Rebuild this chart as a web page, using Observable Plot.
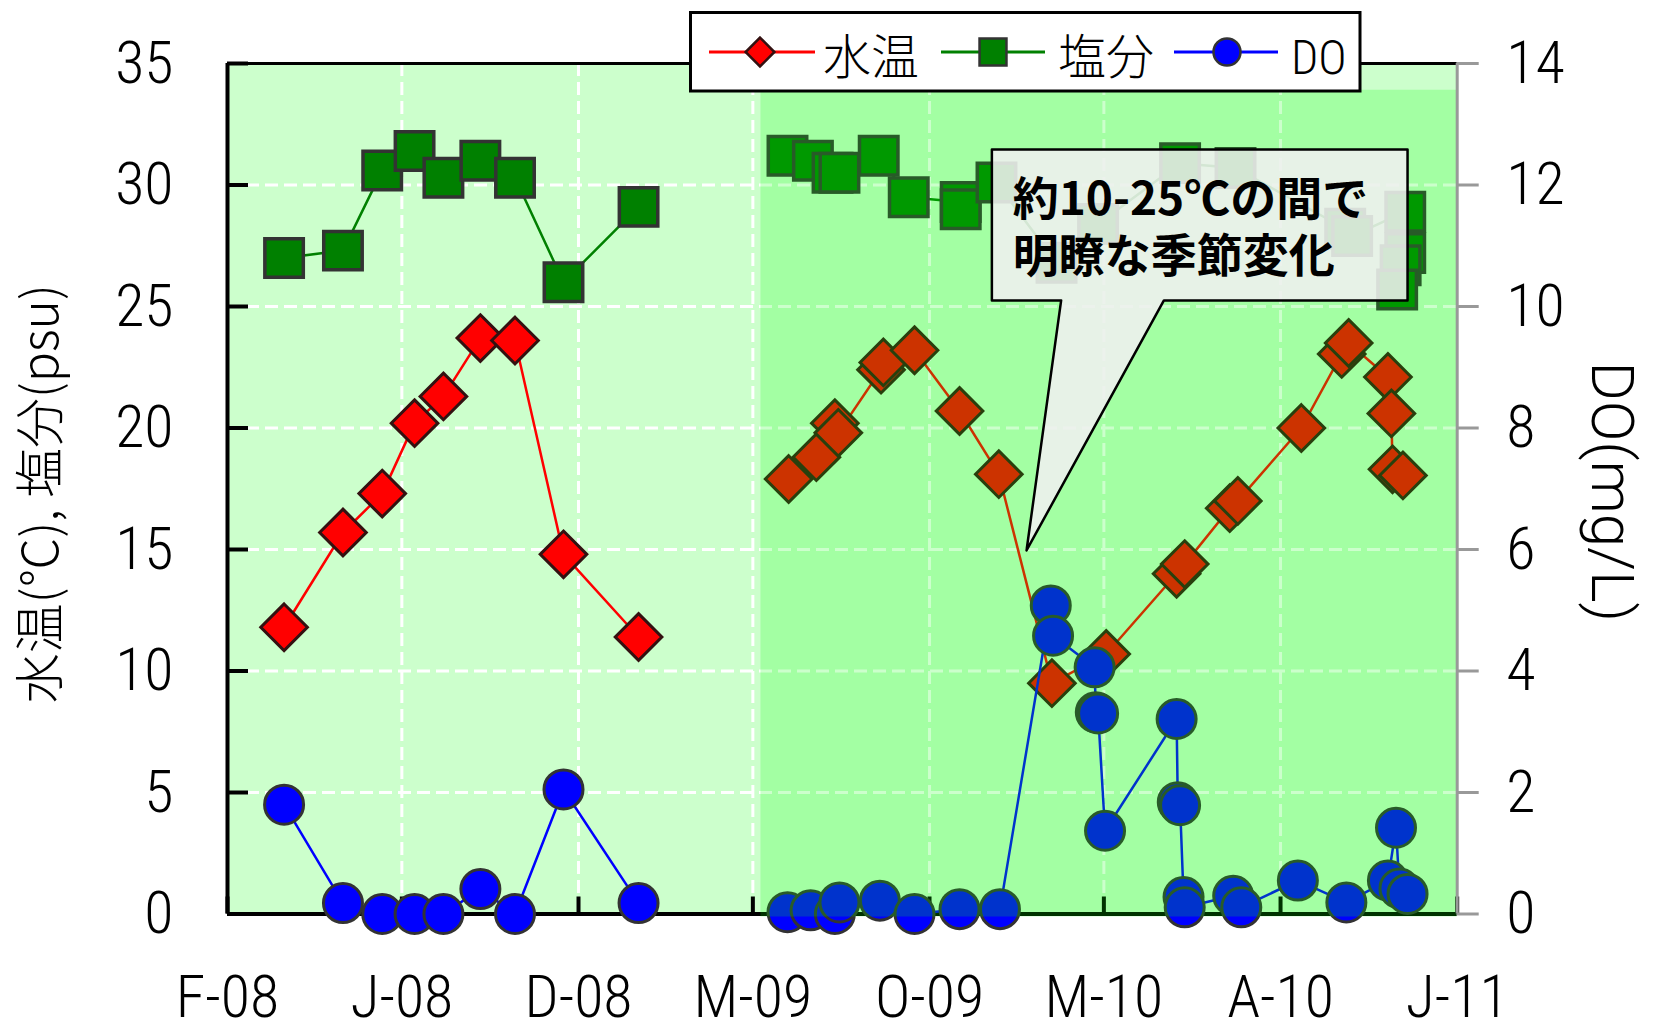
<!DOCTYPE html>
<html><head><meta charset="utf-8">
<script src="https://cdn.jsdelivr.net/npm/d3@7"></script>
<script src="https://cdn.jsdelivr.net/npm/@observablehq/plot@0.6"></script>
<style>
html,body{margin:0;padding:0;background:#fff;}
#wrap{position:relative;width:1655px;height:1025px;overflow:hidden;}
#chart{position:absolute;left:0;top:0;}
#legend{position:absolute;left:0;top:0;}
</style></head><body>
<div id="wrap"><div id="chart"></div><svg id="legend" width="1655" height="100"></svg></div>
<script>
// ---------------- data ----------------
const xTickDates  = ["2008-02-01","2008-07-01","2008-12-01","2009-05-01","2009-10-01","2010-03-01","2010-08-01","2011-01-01"];
const xTickLabels = ["F-08","J-08","D-08","M-09","O-09","M-10","A-10","J-11"];
const yLeftTicks  = [0,5,10,15,20,25,30,35];
const yRightTicks = [0,2,4,6,8,10,12,14];

const tempDates = ["2008-03-21","2008-05-11","2008-06-14","2008-07-12","2008-08-06","2008-09-07","2008-10-07","2008-11-18","2009-01-22",
  "2009-06-01","2009-06-25","2009-07-11","2009-07-14","2009-08-20","2009-08-22","2009-09-18","2009-10-27","2009-11-30",
  "2010-01-15","2010-03-03","2010-05-03","2010-05-10","2010-06-18","2010-06-25","2010-08-19","2010-09-23","2010-09-29",
  "2010-11-02","2010-11-05","2010-11-06","2010-11-15"];
const tempValues = [11.8,15.7,17.3,20.2,21.3,23.7,23.6,14.8,11.4,
  17.9,18.8,20.2,19.8,22.4,22.7,23.2,20.7,18.1,
  9.5,10.7,14.0,14.4,16.7,17.0,20.0,23.05,23.5,
  22.1,20.6,18.3,18.05];

const salDates = ["2008-03-21","2008-05-11","2008-06-14","2008-07-12","2008-08-06","2008-09-07","2008-10-07","2008-11-18","2009-01-22",
  "2009-05-31","2009-06-22","2009-07-09","2009-07-15","2009-08-18","2009-09-13","2009-10-28","2009-10-28","2009-11-28",
  "2010-01-19","2010-02-24","2010-05-06","2010-06-23","2010-09-26","2010-10-02",
  "2010-11-17","2010-11-17","2010-11-13","2010-11-10"];
const salValues = [27.0,27.3,30.6,31.4,30.3,31.0,30.3,26.0,29.1,
  31.2,31.0,30.5,30.5,31.2,29.5,29.3,29.0,30.1,
  26.8,28.4,30.9,30.7,28.2,27.9,
  28.9,27.2,26.7,25.7];

const doDates = ["2008-03-21","2008-05-11","2008-06-14","2008-07-12","2008-08-06","2008-09-07","2008-10-07","2008-11-18","2009-01-22",
  "2009-05-31","2009-06-20","2009-07-11","2009-07-15","2009-08-19","2009-09-18","2009-10-27","2009-12-01",
  "2010-01-14","2010-01-16","2010-02-21","2010-02-22","2010-02-24","2010-03-02",
  "2010-05-03","2010-05-04","2010-05-06","2010-05-09","2010-05-10","2010-06-21","2010-06-28",
  "2010-08-16","2010-09-27","2010-11-02","2010-11-09","2010-11-12","2010-11-19"];
const doValues = [1.80,0.18,0.0,0.0,0.0,0.41,0.0,2.05,0.18,
  0.03,0.06,0.0,0.19,0.22,0.0,0.08,0.08,
  5.08,4.58,4.06,3.32,3.30,1.37,
  3.21,1.84,1.79,0.28,0.11,0.30,0.11,
  0.55,0.19,0.55,1.42,0.42,0.33];

const xDomain = ["2008-02-01","2011-01-01"];
const gapDate = "2009-03-01";              // sampling gap: lines are broken here
const overlayPeriod = {start: "2009-05-08", end: "2011-01-01", top: 33.9};
const callout = {left: "2009-11-24", right: "2010-11-19", top: 31.46, bottom: 25.25,
  baseL: "2010-01-23", baseR: "2010-04-22", tipX: "2009-12-24", tipY: 14.96,
  textX: "2009-12-12", textY: 28.35, text: "約10-25℃の間で\n明瞭な季節変化"};
const leftTitle = "水温(℃), 塩分(psu)";
const rightTitle = "DO(mg/L)";

// ---------------- build ----------------
const W = 1655, H = 1025;
const mL = 227, mR = 198.3, mT = 63, mB = 111.5;
const frameW = W - mL - mR, frameH = H - mT - mB;
const doFactor = 35 / 14;
const parse = s => new Date(s + "T00:00:00Z");
const gap = parse(gapDate);
const series = (dates, values, k = 1) => dates.map((d, i) => ({date: parse(d), value: values[i] * k, seg: parse(d) < gap ? 0 : 1}));
const temp = series(tempDates, tempValues);
const sal = series(salDates, salValues);
const dox = series(doDates, doValues, doFactor);

const NARROW = "'Roboto Condensed','Liberation Sans Narrow','DejaVu Sans Condensed',sans-serif";
const CJK = "'Noto Sans CJK JP','Noto Sans CJK SC',sans-serif";
const SANS = "Roboto,'Liberation Sans',Arial,sans-serif";
const LIGHT = 300;

const cPts = [[callout.left, callout.top],[callout.right, callout.top],[callout.right, callout.bottom],
  [callout.baseR, callout.bottom],[callout.tipX, callout.tipY],[callout.baseL, callout.bottom],[callout.left, callout.bottom]];

const grid = {stroke: "white", strokeOpacity: 1, strokeWidth: 3, strokeDasharray: "13,6"};

const chart = Plot.plot({
  width: W, height: H, marginLeft: mL, marginRight: mR, marginTop: mT, marginBottom: mB,
  x: {type: "utc", domain: xDomain.map(parse), axis: null},
  y: {domain: [0, 35], axis: null},
  style: {background: "white", overflow: "visible"},
  marks: [
    Plot.frame({fill: "#CCFFCC", stroke: "none"}),
    Plot.ruleY(yLeftTicks.slice(1, -1), grid),
    Plot.ruleX(xTickDates.slice(1, -1).map(parse), grid),
    Plot.ruleY([0], {stroke: "black", strokeWidth: 4}),
    Plot.ruleX([parse(xDomain[0])], {stroke: "black", strokeWidth: 4}),
    Plot.tickX(xTickDates.map(parse), {stroke: "black", strokeWidth: 4, insetTop: frameH - 17}),
    Plot.tickY(yLeftTicks, {stroke: "black", strokeWidth: 4, insetRight: frameW - 21}),
    // 水温
    Plot.line(temp, {x: "date", y: "value", z: "seg", stroke: "#FF0000", strokeWidth: 2.5}),
    Plot.dot(temp, {x: "date", y: "value", symbol: "diamond2", r: 21, fill: "#FF0000", stroke: "#331111", strokeWidth: 3}),
    // 塩分
    Plot.line(sal, {x: "date", y: "value", z: "seg", stroke: "#008000", strokeWidth: 2.5}),
    Plot.dot(sal, {x: "date", y: "value", symbol: "square", r: 21.7, fill: "#008000", stroke: "#333333", strokeWidth: 3.5}),
    // DO
    Plot.line(dox, {x: "date", y: "value", z: "seg", stroke: "#0000FF", strokeWidth: 2.5}),
    Plot.dot(dox, {x: "date", y: "value", r: 19.5, fill: "#0000FF", stroke: "#333333", strokeWidth: 3}),
    // shaded period
    Plot.rect([overlayPeriod], {x1: d => parse(d.start), x2: d => parse(d.end), y1: 0, y2: d => d.top,
      fill: "#00FF00", fillOpacity: 0.2, insetBottom: -3}),
    Plot.ruleY([35], {stroke: "black", strokeWidth: 3}),
    Plot.ruleX([parse(xDomain[1])], {stroke: "#999999", strokeWidth: 3}),
    Plot.tickY(yRightTicks.map(v => v * doFactor), {stroke: "#999999", strokeWidth: 3, insetLeft: frameW, insetRight: -22}),
    // callout
    Plot.line(cPts, {x: d => parse(d[0]), y: d => d[1], curve: "linear-closed", fill: "#F0F0F0", fillOpacity: 0.88,
      stroke: "black", strokeWidth: 2.5}),
    Plot.text([callout], {x: d => parse(d.textX), y: d => d.textY, text: d => d.text, textAnchor: "start",
      lineAnchor: "middle", lineHeight: 1.25, fontSize: 46, fontWeight: "bold", fontFamily: CJK, fill: "black"}),
    // tick labels
    Plot.text(yLeftTicks, {frameAnchor: "left", y: d => d, text: d => String(d), textAnchor: "end", lineAnchor: "middle", dx: -54,
      fontSize: 60, fontWeight: LIGHT, fontFamily: NARROW, fill: "black"}),
    Plot.text(yRightTicks, {frameAnchor: "right", y: d => d * doFactor, text: d => String(d), textAnchor: "start", lineAnchor: "middle", dx: 49,
      fontSize: 60, fontWeight: LIGHT, fontFamily: NARROW, fill: "black"}),
    Plot.text(xTickDates, {x: d => parse(d), frameAnchor: "bottom", text: (d, i) => xTickLabels[i], textAnchor: "middle", lineAnchor: "middle", dy: 84,
      fontSize: 60, fontWeight: LIGHT, fontFamily: NARROW, fill: "black"}),
    // axis titles
    Plot.text([leftTitle], {frameAnchor: "left", text: d => d, textAnchor: "middle", lineAnchor: "middle", rotate: -90, dx: -186, dy: 5,
      fontSize: 50, fontWeight: LIGHT, fontFamily: CJK, fill: "black"}),
    Plot.text([rightTitle], {frameAnchor: "right", text: d => d, textAnchor: "middle", lineAnchor: "middle", rotate: 90, dx: 154, dy: 3,
      fontSize: 60, fontWeight: LIGHT, fontFamily: SANS, fill: "black"})
  ]
});
document.getElementById("chart").appendChild(chart);

// ---------------- legend ----------------
const lg = d3.select("#legend");
lg.append("rect").attr("x", 690.5).attr("y", 12.5).attr("width", 669.5).attr("height", 78.5)
  .attr("fill", "white").attr("stroke", "black").attr("stroke-width", 3);
const items = [
  {label: "水温", color: "#FF0000", stroke: "#331111", symbol: d3.symbolDiamond2, r: 13, x0: 709, x1: 815, mx: 760, tx: 823, font: CJK},
  {label: "塩分", color: "#008000", stroke: "#333333", symbol: d3.symbolSquare, r: 15.2, x0: 941, x1: 1045, mx: 993, tx: 1058, font: CJK},
  {label: "DO", color: "#0000FF", stroke: "#333333", symbol: d3.symbolCircle, r: 13.5, x0: 1174, x1: 1278, mx: 1227, tx: 1291, font: NARROW}
];
const ly = 52;
for (const it of items) {
  lg.append("line").attr("x1", it.x0).attr("x2", it.x1).attr("y1", ly).attr("y2", ly)
    .attr("stroke", it.color).attr("stroke-width", 3);
  lg.append("path").attr("d", d3.symbol(it.symbol, it.r * it.r * Math.PI)())
    .attr("transform", `translate(${it.mx},${ly})`).attr("fill", it.color).attr("stroke", it.stroke).attr("stroke-width", 2.5);
  lg.append("text").attr("x", it.tx).attr("y", 73.5).attr("font-size", 48).attr("font-weight", LIGHT).attr("font-family", it.font)
    .attr("fill", "black").text(it.label);
}
</script>
</body></html>
